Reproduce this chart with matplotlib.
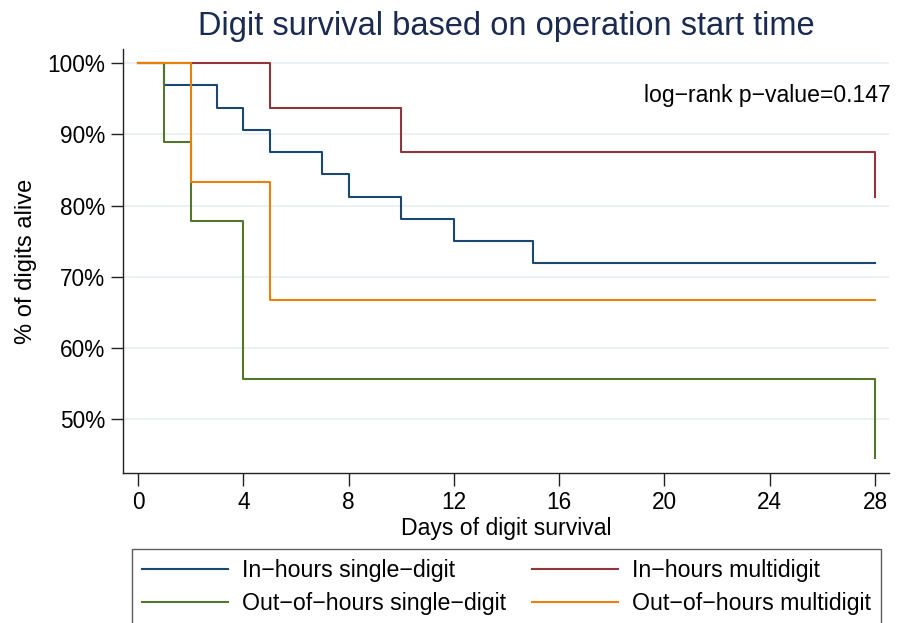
import numpy as np
import matplotlib.pyplot as plt

plt.rcParams['font.family'] = ['Liberation Sans', 'DejaVu Sans']

# Kaplan-Meier step values (days, survival %)
ih_single_t = [0, 1, 3, 4, 5, 7, 8, 10, 12, 15, 28]
ih_single_s = [100, 96.875, 93.75, 90.625, 87.5, 84.375, 81.25, 78.125, 75.0, 71.875, 71.875]

ih_multi_t = [0, 5, 10, 28, 28]
ih_multi_s = [100, 93.75, 87.5, 87.5, 81.25]

oh_single_t = [0, 1, 2, 4, 28, 28]
oh_single_s = [100, 88.89, 77.78, 55.56, 55.56, 44.44]

oh_multi_t = [0, 2, 5, 28]
oh_multi_s = [100, 83.33, 66.67, 66.67]

labels = ['In\u2212hours single\u2212digit', 'In\u2212hours multidigit',
          'Out\u2212of\u2212hours single\u2212digit', 'Out\u2212of\u2212hours multidigit']
colors = ['#1a476f', '#90353b', '#55752f', '#e8810a']

fig = plt.figure(figsize=(9, 6.23), dpi=100)
ax = fig.add_axes([0.1367, 0.2408, 0.8511, 0.6805])

series = [(ih_single_t, ih_single_s), (ih_multi_t, ih_multi_s),
          (oh_single_t, oh_single_s), (oh_multi_t, oh_multi_s)]
handles = []
for (t, s), lab, c in zip(series, labels, colors):
    h, = ax.step(t, s, where='post', color=c, lw=1.5, label=lab)
    handles.append(h)

ax.set_xlim(-0.57, 28.53)
ax.set_ylim(42.4, 102.0)
ax.set_xticks(np.arange(0, 29, 4))
ax.set_yticks(np.arange(50, 101, 10))
ax.set_yticklabels([f'{v}%' for v in range(50, 101, 10)])
ax.grid(axis='y', color='#e8eff0', lw=1.2)
ax.set_axisbelow(True)
for side in ['top', 'right']:
    ax.spines[side].set_visible(False)
for side in ['left', 'bottom']:
    ax.spines[side].set_color('#222222')
    ax.spines[side].set_linewidth(1.0)
ax.tick_params(direction='out', length=9, width=1, color='#222222', labelsize=16.3, pad=4)

ax.set_xlabel('Days of digit survival', fontsize=16.6, labelpad=2)
ax.set_ylabel('% of digits alive', fontsize=17, labelpad=7)
fig.text(0.5622, 0.9438, 'Digit survival based on operation start time',
         ha='center', va='baseline', fontsize=23.5, color='#1a2a50')
ax.text(28.6, 94.6, 'log\u2212rank p\u2212value=0.147', ha='right', va='baseline', fontsize=16.6)

# legend rows: in-hours on top, out-of-hours below (matplotlib fills by column)
order = [0, 2, 1, 3]
leg = fig.legend([handles[i] for i in order], [labels[i] for i in order],
                 ncol=2, loc='upper left', bbox_to_anchor=(0.1467, 0.0, 0.8322, 0.1188),
                 mode='expand', fontsize=16.7, frameon=True, fancybox=False,
                 edgecolor='#333333', handlelength=3.7, handletextpad=0.6,
                 columnspacing=1.0, borderaxespad=0, labelspacing=0.4, borderpad=0.45)
leg.get_frame().set_linewidth(1.0)

fig.savefig('out.png', dpi=100)
